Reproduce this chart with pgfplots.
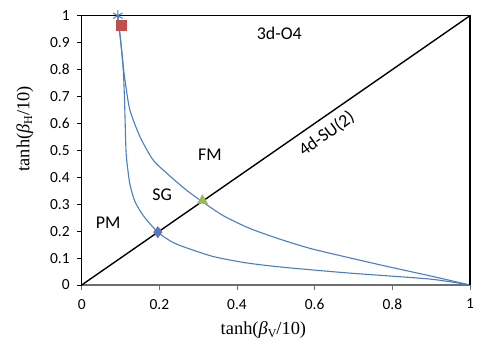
\documentclass[border=0pt]{standalone}
\usepackage{pgfplots}
\pgfplotsset{compat=1.18}
\usepackage{fontspec}
\setmainfont{Carlito}
\newfontfamily\timesfont{Liberation Serif}
\definecolor{cblue}{RGB}{74,126,193}
\definecolor{cred}{RGB}{192,80,77}
\definecolor{cgreen}{RGB}{155,187,89}
\definecolor{cpurple}{RGB}{128,100,162}
\definecolor{cgray}{RGB}{110,110,110}
\newcommand{\lblfont}{\fontsize{18.5}{20}\selectfont\timesfont}
\begin{document}
\begin{tikzpicture}
\path[use as bounding box] (-81.7bp,-71bp) rectangle (403.3bp,285bp);
\begin{axis}[
  at={(0,0)}, anchor=south west,
  scale only axis, width=388.3bp, height=269.3bp,
  xmin=0, xmax=1, ymin=0, ymax=1,
  clip=false,
  axis x line=bottom, axis y line=left,
  axis line style={-},
  x axis line style={cgray, line width=1.4pt},
  y axis line style={black, line width=1.4pt},
  xtick={0,0.2,0.4,0.6,0.8,1},
  ytick={0,0.1,0.2,0.3,0.4,0.5,0.6,0.7,0.8,0.9,1},
  tick align=outside,
  major tick length=4.5bp,
  xtick style={cgray, line width=0.8pt},
  ytick style={black, line width=0.8pt},
  /pgf/number format/assume math mode=true,
  ticklabel style={font=\fontsize{15.5}{17}\selectfont},
  xticklabel style={yshift=-6bp},
  yticklabel style={xshift=-4bp},
  xlabel={\lblfont tanh(\itshape β\upshape\raisebox{-0.35ex}{\fontsize{12}{12}\selectfont V}/10)},
  ylabel={\lblfont tanh(\itshape β\upshape\raisebox{-0.35ex}{\fontsize{12}{12}\selectfont H}/10)},
  every axis x label/.style={at={(axis description cs:0.468,0)}, anchor=north, yshift=-33bp},
  every axis y label/.style={at={(axis description cs:0,0.58)}, anchor=south, rotate=90, yshift=45bp},
]
% PM / SG boundary
\addplot[cblue, line width=1.1pt, smooth, tension=0.4] coordinates {
(0.093,1) (0.101,0.897) (0.107,0.8) (0.110,0.7) (0.112,0.6) (0.114,0.5)
(0.117,0.45) (0.124,0.375) (0.137,0.31) (0.160,0.255) (0.196,0.196)
(0.230,0.162) (0.262,0.142) (0.338,0.106) (0.420,0.083) (0.511,0.067) (0.683,0.045)
(0.897,0.022) (1.0,0)};
% SG / FM boundary
\addplot[cblue, line width=1.1pt, smooth, tension=0.4] coordinates {
(0.093,1) (0.101,0.897) (0.108,0.8) (0.112,0.755) (0.124,0.65) (0.150,0.551)
(0.184,0.464) (0.227,0.405) (0.270,0.352) (0.311,0.309) (0.365,0.257)
(0.433,0.210) (0.511,0.170) (0.596,0.133) (0.768,0.075) (0.897,0.034) (1.0,0)};
% frame lines (3d-O4)
\addplot[black, line width=1.4pt] coordinates {(0,1) (1,1) (1,0)};
% diagonal (4d-SU(2))
\addplot[black, line width=1.4pt] coordinates {(0,0) (1,1)};
% markers
\addplot[only marks, mark=asterisk, mark size=5.5bp, cblue, line width=1pt] coordinates {(0.093,1)};
\addplot[only marks, mark=square*, mark size=5bp, cred, fill=cred] coordinates {(0.101,0.965)};
\addplot[only marks, mark=diamond*, mark size=5.5bp, draw=cpurple, fill=cblue, line width=0.6pt] coordinates {(0.196,0.196)};
\addplot[only marks, mark=triangle*, mark size=6bp, draw=cgreen, fill=cgreen] coordinates {(0.311,0.313)};
% region labels
\node[font=\fontsize{18}{20}\selectfont] at (axis cs:0.509,0.936) {3d-O4};
\node[font=\fontsize{18}{20}\selectfont] at (axis cs:0.33,0.483) {FM};
\node[font=\fontsize{18}{20}\selectfont] at (axis cs:0.207,0.334) {SG};
\node[font=\fontsize{18}{20}\selectfont] at (axis cs:0.068,0.23) {PM};
\node[font=\fontsize{18}{20}\selectfont, rotate=36] at (axis cs:0.631,0.561) {4d-SU(2)};
\end{axis}
\end{tikzpicture}
\end{document}
